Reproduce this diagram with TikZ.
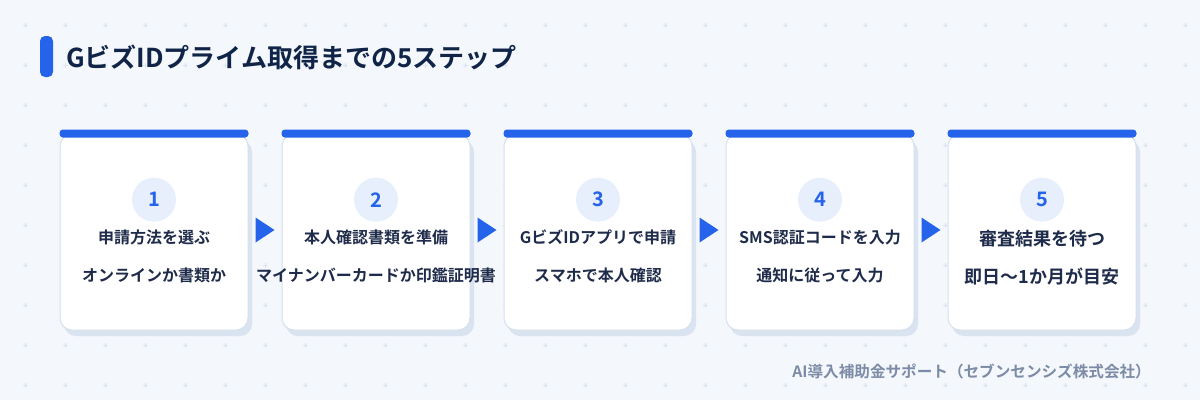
\documentclass[tikz,border=0pt]{standalone}
\usepackage{fontspec}
\setmainfont{Noto Sans CJK JP}[BoldFont={Noto Sans CJK JP Bold}]
\usetikzlibrary{positioning, calc, shadows}

\definecolor{pagebg}{HTML}{F4F7FC}
\definecolor{gridmark}{HTML}{DCE4F0}
\definecolor{stepblue}{HTML}{2563EB}
\definecolor{discbg}{HTML}{E7EFFC}
\definecolor{cardline}{HTML}{D6E0EE}
\definecolor{cardshadow}{HTML}{DAE3F0}
\definecolor{titleink}{HTML}{0F2447}
\definecolor{stepink}{HTML}{1E2B4A}
\definecolor{footink}{HTML}{7D8CA6}

\tikzset{
  card/.style={rectangle, rounded corners=12pt, fill=white, draw=cardline, line width=1pt,
    minimum width=188pt, minimum height=196pt, inner sep=0pt,
    drop shadow={shadow xshift=4pt, shadow yshift=-6pt, fill=cardshadow, opacity=1}},
  numdisc/.style={circle, fill=discbg, minimum size=44pt, inner sep=0pt,
    text=stepblue, font=\fontsize{20}{24}\selectfont\bfseries},
  steptext/.style={text=stepink, inner sep=0pt, font=\fontsize{16}{19}\selectfont\bfseries},
  bigtext/.style={steptext, font=\fontsize{18}{21}\selectfont\bfseries},
  topbar/.style={fill=stepblue, rounded corners=3.5pt},
  flowtip/.style={fill=stepblue}
}

\begin{document}
\begin{tikzpicture}[x=1pt, y=1pt, node distance=222pt, on grid]
  % page and dotted grid
  \fill[pagebg] (0,0) rectangle (1200,-400);
  \useasboundingbox (0,0) rectangle (1200,-400);
  \foreach \i in {0,...,29}
    \foreach \j in {0,...,9}
      \draw[gridmark, line width=1pt] ({25+40*\i-2.5},{-25-40*\j}) -- ++(5,0)
        ({25+40*\i},{-25-40*\j-2.5}) -- ++(0,5);

  % heading
  \fill[stepblue, rounded corners=5pt] (40,-36) rectangle (53,-77);
  \node[anchor=west, inner sep=0pt, text=titleink,
    font=\fontsize{26}{30}\selectfont\bfseries] (title) at (66,-57) {GビズIDプライム取得までの5ステップ};

  % cards
  \node[card] (s1) at (154,-232) {};
  \node[card] (s2) [right=of s1] {};
  \node[card] (s3) [right=of s2] {};
  \node[card] (s4) [right=of s3] {};
  \node[card] (s5) [right=of s4] {};

  \foreach \s/\k in {s1/1, s2/2, s3/3, s4/4, s5/5} {
    \fill[topbar] ($(\s.north west)+(0,4)$) rectangle ($(\s.north east)+(0,-4)$);
    \node[numdisc] (n\k) [below=44pt of \s.north] {\k};
  }

  % step texts
  \node[steptext] (a1) [below=96pt of s1.north] {申請方法を選ぶ};
  \node[steptext] (b1) [below=134pt of s1.north] {オンラインか書類か};
  \node[steptext] (a2) [below=96pt of s2.north] {本人確認書類を準備};
  \node[steptext] (b2) [below=134pt of s2.north] {マイナンバーカードか印鑑証明書};
  \node[steptext] (a3) [below=96pt of s3.north] {GビズIDアプリで申請};
  \node[steptext] (b3) [below=134pt of s3.north] {スマホで本人確認};
  \node[steptext] (a4) [below=96pt of s4.north] {SMS認証コードを入力};
  \node[steptext] (b4) [below=134pt of s4.north] {通知に従って入力};
  \node[bigtext] (a5) [below=96pt of s5.north] {審査結果を待つ};
  \node[bigtext] (b5) [below=134pt of s5.north] {即日～1か月が目安};

  % arrows between the cards
  \foreach \p/\q in {s1/s2, s2/s3, s3/s4, s4/s5} {
    \coordinate (m) at ($(\p.east)!0.5!(\q.west)+(0,2)$);
    \fill[flowtip] ($(m)+(-9.5,12.5)$) -- ($(m)+(9.5,0)$) -- ($(m)+(-9.5,-12.5)$) -- cycle;
  }

  % footer
  \node[anchor=east, inner sep=0pt, text=footink,
    font=\fontsize{15.6}{18}\selectfont\bfseries] (foot) at (1151,-372) {AI導入補助金サポート（セブンセンシズ株式会社）};
\end{tikzpicture}
\end{document}
